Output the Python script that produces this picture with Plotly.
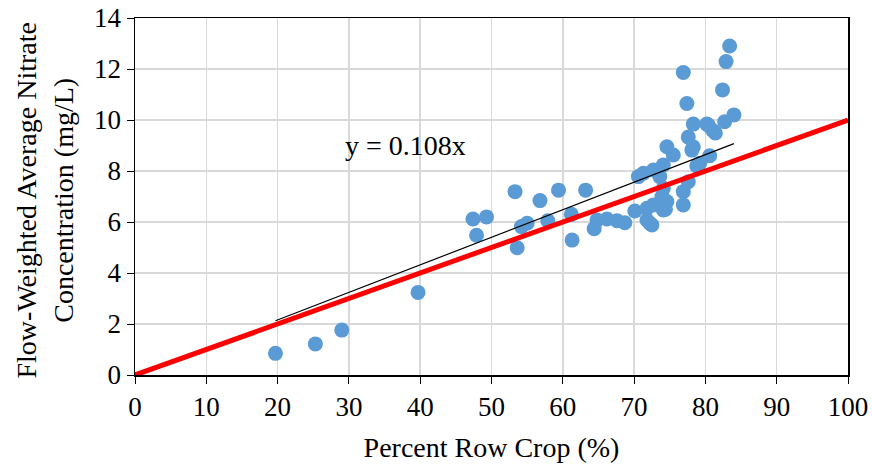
import plotly.graph_objects as go

# Percent row crop (%) and flow-weighted average nitrate (mg/L)
row_crop = [19.7, 25.3, 29.0, 39.7,
            47.4, 49.3, 47.9, 53.3, 53.6, 54.2, 55.0, 56.8, 57.9, 59.4, 61.2, 61.3, 63.2,
            64.4, 64.8, 66.2, 67.6, 68.7,
            70.1, 71.8, 72.7, 71.8, 72.5, 74.1, 74.6, 76.9, 76.9, 77.6, 74.1, 73.6, 74.1,
            72.7, 71.3, 70.6, 74.6, 73.9, 75.5, 74.4, 72.2,
            78.1, 78.8, 79.2, 80.6, 78.3, 80.2, 80.4, 81.4, 81.0, 77.6, 82.7, 84.0, 77.4,
            76.9, 82.4, 82.9, 83.4, 78.3]
nitrate = [0.85, 1.22, 1.76, 3.24,
           6.12, 6.20, 5.48, 7.19, 4.99, 5.82, 5.95, 6.84, 6.05, 7.25, 6.30, 5.29, 7.25,
           5.74, 6.08, 6.12, 6.05, 5.97,
           6.43, 6.54, 6.67, 6.08, 5.88, 6.47, 6.80, 6.67, 7.19, 7.58, 7.32, 7.78, 8.24,
           8.04, 7.91, 7.78, 8.95, 7.00, 8.63, 6.50, 5.95,
           8.82, 8.20, 8.30, 8.60, 9.84, 9.84, 9.80, 9.49, 9.60, 9.33, 9.93, 10.20, 10.65,
           11.86, 11.18, 12.29, 12.90, 8.94]

trend_slope = 0.108
ref_slope = 0.1
ref_x = [0, 100]

x_ticks = list(range(0, 101, 10))
y_ticks = list(range(0, 15, 2))

font_family = "Liberation Serif, Times New Roman, serif"
tick_size = 27
title_size = 28

fig = go.Figure()

fig.add_trace(go.Scatter(
    x=row_crop, y=nitrate, mode="markers",
    marker=dict(size=15, color="#5B9BD5"),
    showlegend=False, cliponaxis=False, hoverinfo="skip"))

fig.add_trace(go.Scatter(
    x=ref_x, y=[ref_slope * v for v in ref_x], mode="lines",
    line=dict(color="#FF0000", width=5), showlegend=False, hoverinfo="skip"))

tx = [min(row_crop), max(row_crop)]
fig.add_trace(go.Scatter(
    x=tx, y=[trend_slope * v for v in tx], mode="lines",
    line=dict(color="black", width=1.2), showlegend=False, hoverinfo="skip"))

fig.add_annotation(x=37.9, y=9.0, xref="x", yref="y",
                   text=f"y = {trend_slope}x", showarrow=False,
                   font=dict(family=font_family, size=title_size, color="black"))

fig.add_annotation(x=-0.127, y=0.49, xref="paper", yref="paper",
                   xanchor="center", yanchor="middle", textangle=-90,
                   text="Flow-Weighted Average Nitrate<br>Concentration (mg/L)",
                   showarrow=False,
                   font=dict(family=font_family, size=title_size, color="black"))

fig.update_layout(
    width=872, height=467,
    margin=dict(l=135, r=24, t=18, b=92, autoexpand=False),
    paper_bgcolor="white", plot_bgcolor="white",
    font=dict(family=font_family, size=tick_size, color="black"),
)

fig.update_xaxes(
    range=[0, 100], tickvals=x_ticks, ticktext=[str(v) for v in x_ticks],
    showgrid=True, gridcolor="#D9D9D9", gridwidth=1.5,
    showline=True, linecolor="black", linewidth=1.5, mirror=True,
    ticks="outside", ticklen=7, tickcolor="black",
    zeroline=False, automargin=False,
    title=dict(text="Percent Row Crop (%)", standoff=16,
               font=dict(family=font_family, size=title_size)),
    tickfont=dict(family=font_family, size=tick_size))

fig.update_yaxes(
    range=[0, 14], tickvals=y_ticks, ticktext=[str(v) for v in y_ticks],
    showgrid=True, gridcolor="#D9D9D9", gridwidth=1.5,
    showline=True, linecolor="black", linewidth=1.5, mirror=True,
    ticks="outside", ticklen=7, tickcolor="black",
    zeroline=False, automargin=False,
    tickfont=dict(family=font_family, size=tick_size))

fig.write_html(
    "out.html",
    config={"displayModeBar": False, "staticPlot": True},
    post_script="document.body.style.margin='0';document.body.style.overflow='hidden';",
)
